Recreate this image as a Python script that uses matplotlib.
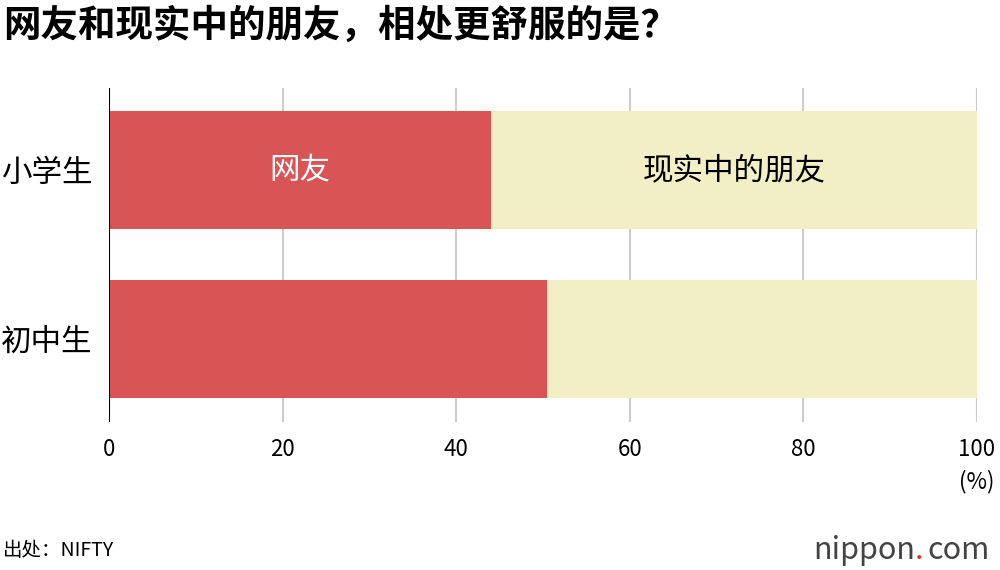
import matplotlib
matplotlib.use("Agg")
import matplotlib.pyplot as plt

plt.rcParams['font.family'] = ['Noto Sans CJK SC', 'DejaVu Sans']

categories = ["小学生", "初中生"]
online = [44.0, 50.5]
real = [56.0, 49.5]
xticks = [0, 20, 40, 60, 80, 100]

red = "#d95555"
cream = "#f2eec5"

fig = plt.figure(figsize=(10, 5.7), dpi=100)
ax = fig.add_axes([0.109, 0.26, 0.868, 0.586])
y = list(range(len(categories)))
ax.barh(y, online, height=0.70, color=red, zorder=2)
ax.barh(y, real, left=online, height=0.70, color=cream, zorder=2)
ax.set_xlim(0, 100)
ax.set_ylim(1.49, -0.49)
for x in xticks[1:]:
    ax.axvline(x, color="#cccccc", lw=1.5, zorder=1)
ax.axvline(0, color="black", lw=1.5, zorder=3)
for s in ax.spines.values():
    s.set_visible(False)
ax.set_yticks(y)
ax.set_yticklabels(categories, fontsize=22, fontweight="medium")
ax.set_xticks(xticks)
ax.set_xticklabels([str(v) for v in xticks], fontsize=16)
ax.tick_params(length=0, pad=12)
ax.tick_params(axis='y', pad=12)

ax.text(online[0] / 2, 0, "网友", color="white", fontsize=22, fontweight="medium",
        ha="center", va="center", zorder=4)
ax.text(online[0] + real[0] / 2, 0, "现实中的朋友", color="black", fontsize=22,
        fontweight="medium", ha="center", va="center", zorder=4)

fig.text(0.003, 0.955, "网友和现实中的朋友，相处更舒服的是？", fontsize=27,
         fontweight="bold", va="center", ha="left")
fig.text(0.977, 0.155, "(%)", fontsize=16, ha="center", va="center")
fig.text(0.003, 0.035, "出处：NIFTY", fontsize=14, va="center", ha="left")
fig.text(0.915, 0.035, "nippon", fontsize=22, va="center", ha="right", color="#444444")
fig.text(0.915, 0.035, ".", fontsize=22, va="center", ha="left", color="#e03030")
fig.text(0.927, 0.035, "com", fontsize=22, va="center", ha="left", color="#444444")
fig.savefig("out.png", dpi=100)
